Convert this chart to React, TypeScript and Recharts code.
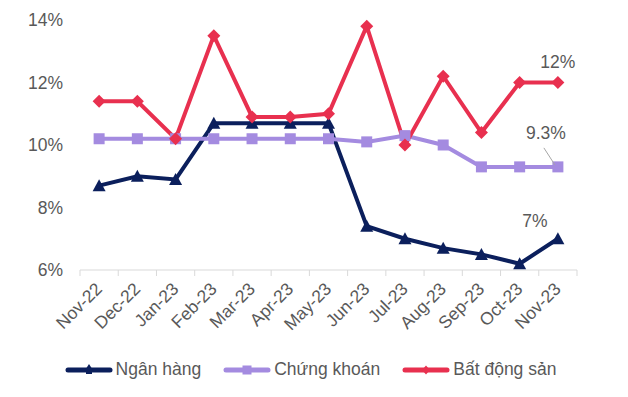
import { LineChart, Line, XAxis, YAxis, Legend } from "recharts";

const months = [
  "Nov-22", "Dec-22", "Jan-23", "Feb-23", "Mar-23", "Apr-23", "May-23",
  "Jun-23", "Jul-23", "Aug-23", "Sep-23", "Oct-23", "Nov-23",
];
const nganHang = [8.7, 9.0, 8.9, 10.7, 10.7, 10.7, 10.7, 7.4, 7.0, 6.7, 6.5, 6.2, 7.0];
const chungKhoan = [10.2, 10.2, 10.2, 10.2, 10.2, 10.2, 10.2, 10.1, 10.3, 10.0, 9.3, 9.3, 9.3];
const batDongSan = [11.4, 11.4, 10.2, 13.5, 10.9, 10.9, 11.0, 13.8, 10.0, 12.2, 10.4, 12.0, 12.0];
const yTicks = [6, 8, 10, 12, 14];

const NAVY = "#0B1F5C";
const LAVENDER = "#A48BE0";
const RED = "#E8304F";
const TEXT = "#595959";
const FONT = "'Liberation Sans', Arial, sans-serif";

const data = months.map((month, i) => ({
  month,
  nganHang: nganHang[i],
  chungKhoan: chungKhoan[i],
  batDongSan: batDongSan[i],
}));

const W = 628;
const H = 397;
const margin = { top: 20, right: 51, bottom: 0, left: 0 };
const yAxisWidth = 80;
const band = (W - margin.left - margin.right - yAxisWidth) / months.length;
const last = months.length - 1;

const XTick = ({ x, y, payload, index }: any) => (
  <g>
    <line x1={x - band / 2} y1={y} x2={x - band / 2} y2={y + 6} stroke="#D9D9D9" />
    {index === last && (
      <line x1={x + band / 2} y1={y} x2={x + band / 2} y2={y + 6} stroke="#D9D9D9" />
    )}
    <text
      transform={`translate(${x + 4}, ${y + 20}) rotate(-45)`}
      textAnchor="end"
      fill={TEXT}
      fontSize={17.5}
      fontFamily={FONT}
    >
      {payload.value}
    </text>
  </g>
);

const Triangle = ({ cx, cy }: any) =>
  cx == null ? null : (
    <path d={`M${cx},${cy - 6.5} L${cx + 6.5},${cy + 5.5} L${cx - 6.5},${cy + 5.5} Z`} fill={NAVY} />
  );
const Square = ({ cx, cy }: any) =>
  cx == null ? null : <rect x={cx - 5.5} y={cy - 5.5} width={11} height={11} fill={LAVENDER} />;
const Diamond = ({ cx, cy }: any) =>
  cx == null ? null : (
    <path d={`M${cx},${cy - 6.5} L${cx + 6.5},${cy} L${cx},${cy + 6.5} L${cx - 6.5},${cy} Z`} fill={RED} />
  );

const lastLabel = (dx: number, dy: number, text: string, leader?: boolean) => (props: any) => {
  const { x, y, index } = props;
  if (index !== last) return null;
  return (
    <g>
      {leader && <line x1={x - 14} y1={y - 19} x2={x - 3} y2={y - 2} stroke="#A6A6A6" />}
      <text
        x={x + dx}
        y={y + dy}
        textAnchor="middle"
        dominantBaseline="central"
        fill={TEXT}
        fontSize={17.5}
        fontFamily={FONT}
      >
        {text}
      </text>
    </g>
  );
};

const legendItems = [
  { name: "Ngân hàng", color: NAVY },
  { name: "Chứng khoán", color: LAVENDER },
  { name: "Bất động sản", color: RED },
];

const LegendContent = () => (
  <div
    style={{
      display: "flex",
      justifyContent: "center",
      gap: 22,
      fontFamily: FONT,
      fontSize: 17.5,
      color: TEXT,
      paddingLeft: 44,
    }}
  >
    {legendItems.map(({ name, color }, i) => (
      <div key={name} style={{ display: "flex", alignItems: "center", gap: 3 }}>
        <svg width={48} height={16}>
          <line x1={3} y1={8} x2={45} y2={8} stroke={color} strokeWidth={5} strokeLinecap="round" />
          {i === 0 && <path d="M24,2 L28.5,9 L19.5,9 Z M21,8 L27,8 L27,12 L21,12 Z" fill={color} />}
          {i === 1 && <rect x={19.5} y={3.5} width={9} height={9} fill={color} />}
          {i === 2 && <path d="M24,3.5 L28,8 L24,12.5 L20,8 Z" fill={color} />}
        </svg>
        <span>{name}</span>
      </div>
    ))}
  </div>
);

export default function App() {
  return (
    <div style={{ position: "absolute", left: 0, top: 0, background: "#fff" }}>
      <LineChart width={W} height={H} data={data} margin={margin}>
        <XAxis
          dataKey="month"
          interval={0}
          height={89}
          tickSize={0}
          tickMargin={0}
          padding={{ left: band / 2, right: band / 2 }}
          axisLine={{ stroke: "#D9D9D9" }}
          tickLine={false}
          tick={<XTick />}
        />
        <YAxis
          width={yAxisWidth}
          domain={[6, 14]}
          ticks={yTicks}
          axisLine={false}
          tickLine={false}
          tickMargin={11}
          tickFormatter={(v: number) => `${v}%`}
          tick={{ fill: TEXT, fontSize: 17.5, fontFamily: FONT }}
        />
        <Legend verticalAlign="bottom" height={38} content={<LegendContent />} />
        <Line
          dataKey="nganHang"
          name="Ngân hàng"
          stroke={NAVY}
          strokeWidth={4}
          dot={<Triangle />}
          activeDot={false}
          label={lastLabel(-23, -18, "7%")}
          isAnimationActive={false}
        />
        <Line
          dataKey="chungKhoan"
          name="Chứng khoán"
          stroke={LAVENDER}
          strokeWidth={4}
          dot={<Square />}
          activeDot={false}
          label={lastLabel(-12, -34, "9.3%", true)}
          isAnimationActive={false}
        />
        <Line
          dataKey="batDongSan"
          name="Bất động sản"
          stroke={RED}
          strokeWidth={4}
          dot={<Diamond />}
          activeDot={false}
          label={lastLabel(0, -21, "12%")}
          isAnimationActive={false}
        />
      </LineChart>
    </div>
  );
}
